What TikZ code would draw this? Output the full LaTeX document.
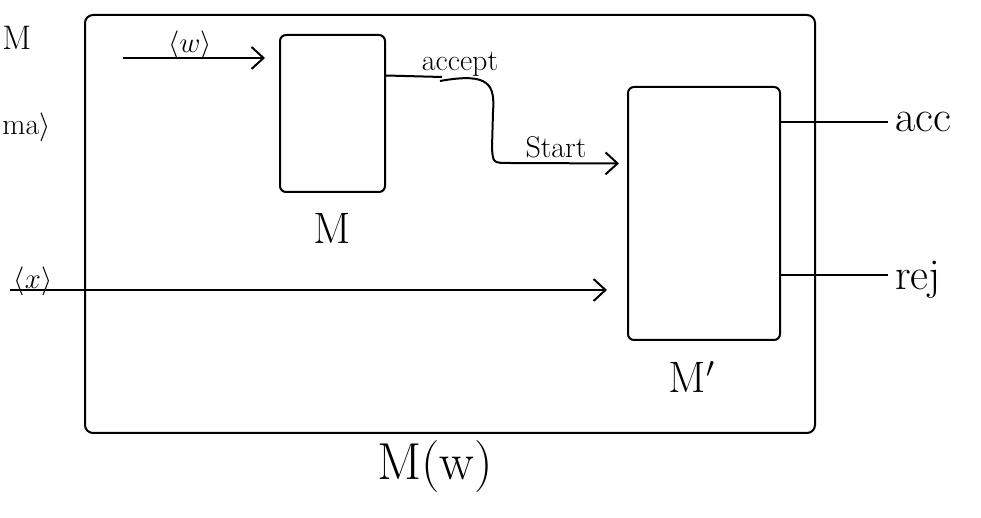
\documentclass[tikz,border=0pt]{standalone}
\usetikzlibrary{arrows.meta}
\begin{document}
\begin{tikzpicture}[
  x=0.5pt,
  y=-0.5pt,
  machine/.style={
    draw,
    rectangle,
    rounded corners=3pt,
    line width=1pt,
    inner sep=0pt
  },
  lbl/.style={
    font=\fontsize{22}{26}\selectfont
  },
  smalllbl/.style={
    font=\fontsize{15}{18}\selectfont,
    inner sep=1pt
  },
  wire/.style={line width=1pt},
  arrow/.style={-{Straight Barb[length=6pt,width=11pt]}, line width=1pt}
]
\useasboundingbox (0,0) rectangle (981,518);

% Outer machine M(w) and the two inner machines.
\node[machine, rounded corners=4pt, minimum width=365pt, minimum height=209pt] (outer) at (450,224) {};
\node[machine, minimum width=52.5pt, minimum height=78.5pt] (M) at (332.5,113.5) {};
\node[machine, minimum width=76pt, minimum height=126.5pt] (Mp) at (704,213.5) {};

% Labels below the machines.
\node[lbl] (Mname) at (332,228) {M};
\node[lbl] (Mpname) at (692,377) {M$'$};
\node[lbl, font=\fontsize{26}{30}\selectfont] (outername) at (435,467) {M(w)};

% Text at the left edge.
\node[lbl, anchor=west, inner sep=0pt, font=\fontsize{17}{20}\selectfont] (cutA) at (2,38) {M};
\node[lbl, anchor=west, inner sep=0pt, font=\fontsize{15}{18}\selectfont] (cutB) at (2,127) {ma$\rangle$};

% Outputs of M'.
\node[lbl, anchor=west] (acc) at (888,122) {acc};
\node[lbl, anchor=west] (rej) at (888,280) {rej};

% Inputs.
\coordinate (win) at (123,58);
\coordinate (xin) at (10,290);
\node[smalllbl] (wlbl) at (190,45) {$\langle w\rangle$};
\node[smalllbl] (xlbl) at (33,281) {$\langle x\rangle$};
\node[smalllbl] (acclbl) at (460,64) {accept};
\node[smalllbl] (startlbl) at (556,147) {Start};

% Arrows into the machines.
\draw[arrow, shorten >=7pt] (win) -- (win -| M.west);
\draw[arrow, shorten >=10pt] (xin) -- (xin -| Mp.west);
\draw[wire] ([yshift=19pt]M.east) -- (442,77);
\draw[arrow, shorten >=4pt] (440,81) .. controls (490,72) and (495,85) .. (493,112)
  -- (492,148) .. controls (493,163) .. (510,163) -- ([yshift=25pt]Mp.west);

% Lines out of M'.
\draw[wire] (Mp.east |- acc.west) -- (acc.west);
\draw[wire] (Mp.east |- 0,275) -- (rej.west |- 0,275);

\end{tikzpicture}
\end{document}
